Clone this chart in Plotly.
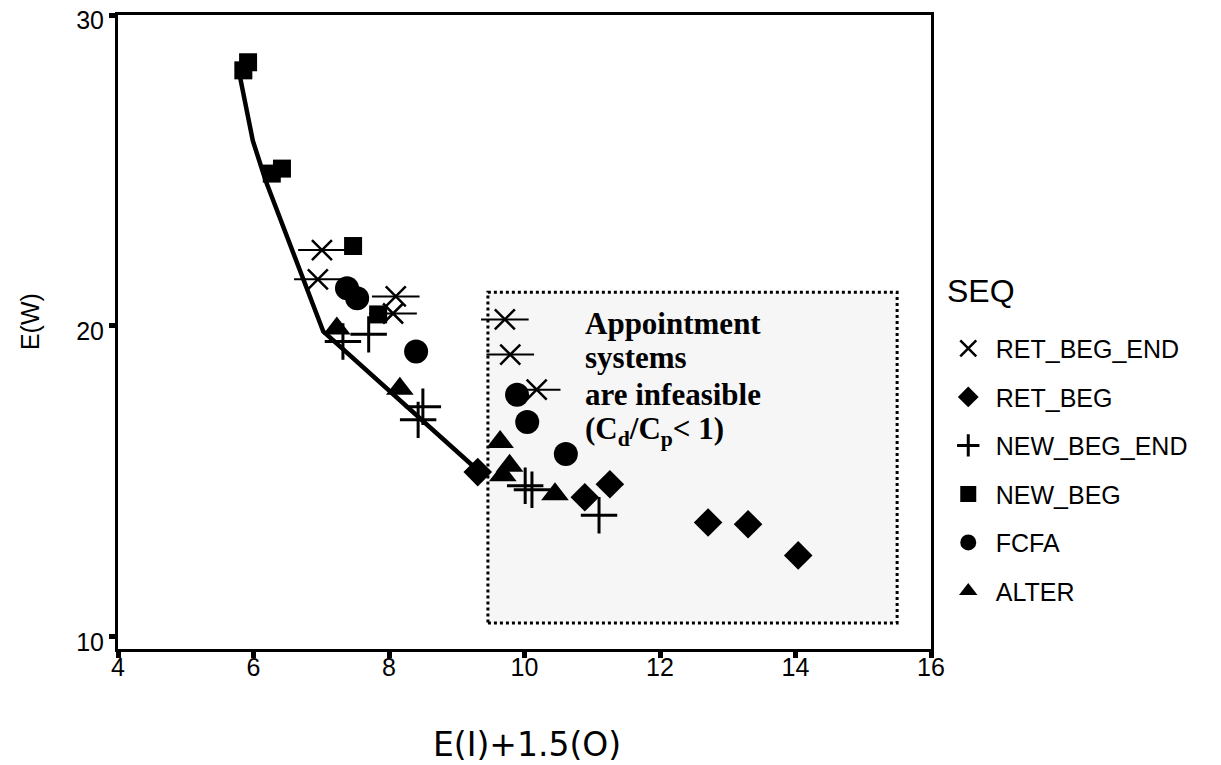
import plotly.graph_objects as go

# ---- data ----
ret_beg_end_x = [7.01, 6.95, 8.10, 8.06, 9.71, 9.79, 10.18]
ret_beg_end_y = [22.44, 21.50, 20.95, 20.40, 20.21, 19.08, 17.95]

ret_beg_x = [9.31, 10.89, 11.26, 12.71, 13.30, 14.04]
ret_beg_y = [15.30, 14.49, 14.91, 13.68, 13.62, 12.62]

new_beg_end_x = [7.32, 7.70, 8.50, 8.43, 10.01, 10.11, 11.10]
new_beg_end_y = [19.50, 19.73, 17.40, 16.98, 14.86, 14.73, 13.91]

new_beg_x = [5.85, 5.92, 6.27, 6.42, 7.47, 7.84]
new_beg_y = [28.22, 28.48, 24.90, 25.06, 22.57, 20.37]

fcfa_x = [7.38, 7.53, 8.40, 9.89, 10.04, 10.61]
fcfa_y = [21.21, 20.89, 19.18, 17.79, 16.91, 15.88]

alter_x = [7.23, 8.16, 9.64, 9.78, 9.68, 10.45]
alter_y = [19.92, 17.98, 16.27, 15.50, 15.20, 14.59]

frontier_x = [5.79, 5.99, 6.18, 6.54, 7.03, 9.31]
frontier_y = [28.13, 25.96, 24.67, 22.63, 19.82, 15.36]

region_x = [9.46, 15.50]
region_y = [10.45, 21.08]

note_lines = ["Appointment", "systems", "are infeasible",
              "(C<sub>d</sub>/C<sub>p</sub>&lt; 1)"]
note_y = [20.08, 18.97, 17.78, 16.62]
note_x = 10.86

x_ticks = [4, 6, 8, 10, 12, 14, 16]
y_ticks = [10, 20, 30]

BLACK = "black"
SANS = "Liberation Sans, Arial, sans-serif"

fig = go.Figure()

# frontier line
fig.add_trace(go.Scatter(x=frontier_x, y=frontier_y, mode="lines",
                         line=dict(color=BLACK, width=4.5), showlegend=False,
                         hoverinfo="skip"))

# RET_BEG_END: X + horizontal bar
fig.add_trace(go.Scatter(x=ret_beg_end_x, y=ret_beg_end_y, mode="markers",
                         marker=dict(symbol="line-ew-open", size=34, color=BLACK,
                                     line=dict(color=BLACK, width=2)),
                         showlegend=False, legendgroup="g1"))
fig.add_trace(go.Scatter(x=ret_beg_end_x, y=ret_beg_end_y, mode="markers",
                         name="RET_BEG_END", legendgroup="g1",
                         marker=dict(symbol="x-thin-open", size=20, color=BLACK,
                                     line=dict(color=BLACK, width=2.5))))
fig.add_trace(go.Scatter(x=ret_beg_x, y=ret_beg_y, mode="markers",
                         name="RET_BEG", legendgroup="g2",
                         marker=dict(symbol="diamond", size=22, color=BLACK)))
fig.add_trace(go.Scatter(x=new_beg_end_x, y=new_beg_end_y, mode="markers",
                         name="NEW_BEG_END", legendgroup="g3",
                         marker=dict(symbol="cross-thin-open", size=26, color=BLACK,
                                     line=dict(color=BLACK, width=3))))
fig.add_trace(go.Scatter(x=new_beg_x, y=new_beg_y, mode="markers",
                         name="NEW_BEG", legendgroup="g4",
                         marker=dict(symbol="square", size=18, color=BLACK)))
fig.add_trace(go.Scatter(x=fcfa_x, y=fcfa_y, mode="markers",
                         name="FCFA", legendgroup="g5",
                         marker=dict(symbol="circle", size=24, color=BLACK)))
fig.add_trace(go.Scatter(x=alter_x, y=alter_y, mode="markers",
                         name="ALTER", legendgroup="g6",
                         marker=dict(symbol="triangle-up", size=24, color=BLACK)))

# infeasible region
fig.add_shape(type="rect", xref="x", yref="y",
              x0=region_x[0], x1=region_x[1], y0=region_y[0], y1=region_y[1],
              line=dict(color=BLACK, width=3, dash="dot"),
              fillcolor="rgba(0,0,0,0.035)", layer="below")

for txt, yy in zip(note_lines, note_y):
    fig.add_annotation(x=note_x, y=yy, xref="x", yref="y", xanchor="left",
                       yanchor="middle", align="left", showarrow=False,
                       text="<b>" + txt + "</b>",
                       font=dict(family="Liberation Serif, Times New Roman, serif",
                                 size=31, color=BLACK))

# axis titles
fig.add_annotation(x=0.503, y=-0.151, xref="paper", yref="paper",
                   xanchor="center", yanchor="middle",
                   showarrow=False, text="E(I)+1.5(O)",
                   font=dict(family="DejaVu Sans, sans-serif", size=33, color=BLACK))
fig.add_annotation(x=-0.108, y=0.516, xref="paper", yref="paper",
                   xanchor="center", yanchor="middle",
                   showarrow=False, text="E(W)", textangle=-90,
                   font=dict(family=SANS, size=25, color=BLACK))

# legend title
fig.add_annotation(x=1.017, y=0.565, xref="paper", yref="paper",
                   xanchor="left", yanchor="middle", showarrow=False, text="SEQ",
                   font=dict(family=SANS, size=32, color=BLACK))

fig.update_layout(
    width=1221, height=765,
    margin=dict(l=110, r=298, t=7, b=124),
    paper_bgcolor="white", plot_bgcolor="white",
    font=dict(family=SANS, color=BLACK),
    legend=dict(x=1.012, y=0.51, xanchor="left", yanchor="top",
                font=dict(size=25, family=SANS), tracegroupgap=13,
                itemwidth=45,
                traceorder="grouped", bgcolor="rgba(0,0,0,0)"),
)
fig.update_xaxes(range=[4, 16], tickvals=x_ticks, showgrid=False, zeroline=False,
                 showline=True, linecolor=BLACK, linewidth=3, mirror=True,
                 ticks="outside", ticklen=6, tickwidth=5, tickcolor=BLACK,
                 ticklabelstandoff=-12, ticklabeloverflow="allow", automargin=False,
                 tickfont=dict(size=25, family=SANS, color=BLACK))
fig.update_yaxes(range=[9.61, 30], tickvals=y_ticks, showgrid=False, zeroline=False,
                 showline=True, linecolor=BLACK, linewidth=3, mirror=True,
                 ticks="outside", ticklen=6, tickwidth=5, tickcolor=BLACK,
                 ticklabelshift=5, ticklabeloverflow="allow", automargin=False,
                 tickfont=dict(size=25, family=SANS, color=BLACK))

fig.write_html("out.html")
